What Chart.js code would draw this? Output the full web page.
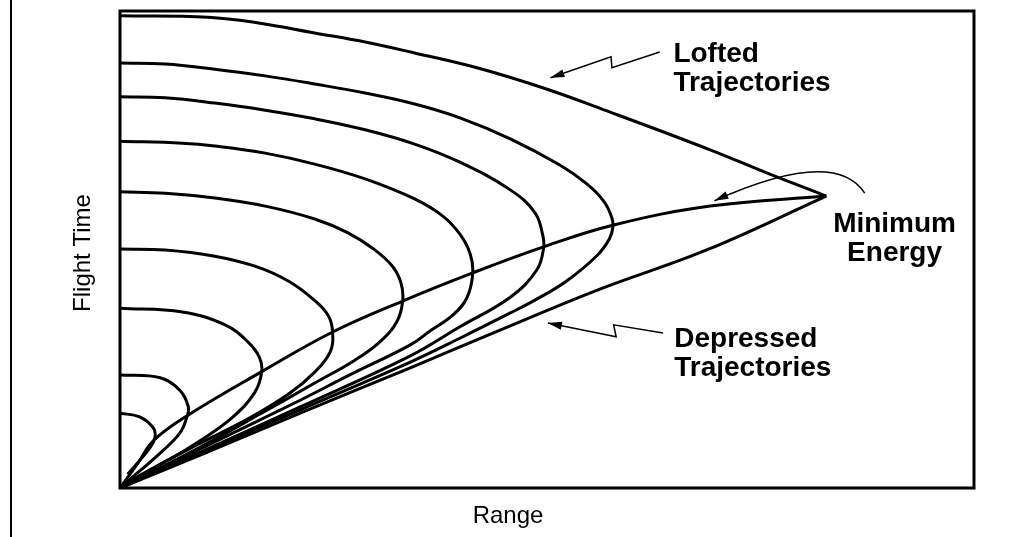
<!DOCTYPE html>
<html>
<head>
<meta charset="utf-8">
<title>Flight Time vs Range</title>
<script src="https://cdn.jsdelivr.net/npm/chart.js@4/dist/chart.umd.min.js"></script>
<style>
  html, body { margin:0; padding:0; background:#fff; }
  #wrap { width:1026px; height:537px; position:relative; }
</style>
</head>
<body>
<div id="wrap"><canvas id="chart"></canvas></div>
<script>
// ---------------------------
// DATA  (range, flight time), relative units 0-100
// ---------------------------
// highest energy curve, split at the minimum energy point so the corner stays sharp
const loftedMax = [[0,99.0],[10.3,98.7],[16.2,97.5],[22.8,95.4],[28.7,93.5],[34.5,91.2],[41.8,88.1],[49.5,83.9],[57.4,78.8],[69.1,70.9],[75.8,66.0],[82.7,61.2]];
const depressedMax = [[82.7,61.2],[68.7,49.9],[56.2,41.7],[44.5,33.1],[34.0,25.2],[21.1,15.7],[9.4,6.9],[0,0]];

const curve2 = [[0,89.1],[5.3,88.9],[11.1,87.8],[17.0,86.4],[22.8,84.7],[28.7,82.8],[34.5,80.5],[39.8,77.6],[45.7,73.2],[51.5,67.7],[54.7,63.7],[56.7,60.0],[57.6,56.6],[57.7,54.5],[57.3,52.2],[55.9,48.8],[52.3,43.4],[48.8,39.6],[45.7,36.7],[39.8,31.4],[34.0,26.4],[21.1,16.4],[9.4,7.3],[0,0]];
const curve3 = [[0,82.0],[5.3,81.8],[11.1,80.7],[17.0,79.2],[22.8,77.4],[28.7,75.1],[34.5,72.1],[39.8,68.3],[45.7,62.5],[48.6,57.7],[49.5,53.0],[49.6,50.3],[48.8,45.7],[45.7,40.0],[39.8,33.8],[34.0,27.7],[21.1,17.0],[9.4,7.5],[0,0]];
const curve4 = [[0,72.7],[7.3,72.3],[11.1,71.7],[17.0,70.2],[22.8,67.9],[28.7,64.8],[34.5,60.6],[37.8,57.0],[39.8,53.2],[41.0,49.1],[41.3,44.9],[40.6,39.8],[39.0,36.3],[36.3,32.9],[34.0,30.0],[26.9,23.7],[21.1,18.4],[9.4,8.2],[0,0]];
const curve5 = [[0,62.1],[5.3,61.8],[11.1,60.8],[17.0,59.1],[22.8,56.4],[26.7,53.5],[29.7,50.1],[31.9,46.5],[32.9,43.0],[33.1,39.2],[32.4,34.8],[30.4,30.6],[27.5,26.8],[22.8,22.0],[16.4,15.5],[9.4,8.6],[0,0]];
const curve6 = [[0,50.1],[5.3,49.9],[11.1,48.6],[15.8,46.5],[19.7,43.4],[22.6,39.6],[24.4,36.1],[24.9,32.5],[24.6,28.5],[22.8,24.3],[19.9,19.9],[15.2,14.7],[9.4,9.4],[4.1,4.4],[0,0]];
const curve7 = [[0,37.7],[7.3,36.9],[12.3,34.2],[15.0,30.6],[16.3,27.5],[16.6,24.5],[15.8,20.1],[13.1,14.7],[9.1,9.6],[5.3,5.5],[1.8,2.1],[0,0]];
const curve8 = [[0,23.7],[4.7,23.1],[7.0,20.5],[8.0,17.0],[7.8,14.7],[7.0,11.5],[4.7,7.3],[2.0,3.1],[0,0]];
const curve9 = [[0,15.7],[2.3,14.9],[3.9,12.6],[4.1,10.7],[3.5,8.4],[0.9,2.9]];

// locus of minimum energy points
const minEnergy = [[0,0],[2.1,5.2],[3.9,9.9],[8.0,15.3],[16.7,24.5],[24.9,32.7],[33.1,39.2],[41.3,45.1],[49.5,50.5],[57.7,55.1],[69.1,59.1],[82.7,61.2]];

const curves = [loftedMax, depressedMax, curve2, curve3, curve4, curve5, curve6, curve7, curve8, curve9, minEnergy];

// callout arrows (data units)
const loftedArrow = [[63.2,91.4],[57.6,88.1],[57.5,90.4],[50.4,86.0]];
const depressedArrow = [[63.6,32.5],[57.8,34.2],[58.1,31.7],[50.1,34.6]];
const minEnergyArc = { from:[87.2,61.8], ctrl:[83.7,71.5], to:[69.6,60.2] };

// text labels: [lines, x, y, align]
const labels = [
  [["Lofted","Trajectories"], 64.8, 89.3, "left"],
  [["Minimum","Energy"], 90.7, 53.7, "center"],
  [["Depressed","Trajectories"], 64.9, 29.6, "left"],
];

const xTitle = "Range";
const yTitle = "Flight Time";

// ---------------------------
// DRAWING HELPERS
// ---------------------------
function arrowHead(ctx, tx, ty, fx, fy){
  const a = Math.atan2(ty-fy, tx-fx), len = 14, half = 4;
  ctx.beginPath();
  ctx.moveTo(tx, ty);
  ctx.lineTo(tx - len*Math.cos(a) + half*Math.sin(a), ty - len*Math.sin(a) - half*Math.cos(a));
  ctx.lineTo(tx - len*Math.cos(a) - half*Math.sin(a), ty - len*Math.sin(a) + half*Math.cos(a));
  ctx.closePath();
  ctx.fill();
}

const decorations = {
  id:"decorations",
  afterDatasetsDraw(chart){
    const {ctx, chartArea:a, scales:{x, y}} = chart;
    const px = (p)=>[x.getPixelForValue(p[0]), y.getPixelForValue(p[1])];
    ctx.save();
    ctx.fillStyle = "#000";
    ctx.strokeStyle = "#000";

    // frame
    ctx.lineWidth = 3;
    ctx.strokeRect(a.left, a.top, a.right-a.left, a.bottom-a.top);

    // scanned page edge on the left
    ctx.lineWidth = 2;
    ctx.beginPath(); ctx.moveTo(11, 0); ctx.lineTo(11, chart.height); ctx.stroke();

    // zig-zag callouts
    ctx.lineWidth = 1.5;
    [loftedArrow, depressedArrow].forEach(pts=>{
      const p = pts.map(px);
      ctx.beginPath();
      ctx.moveTo(p[0][0], p[0][1]);
      p.slice(1).forEach(q=>ctx.lineTo(q[0], q[1]));
      ctx.stroke();
      const n = p.length;
      arrowHead(ctx, p[n-1][0], p[n-1][1], p[n-2][0], p[n-2][1]);
    });

    // curved callout
    const f = px(minEnergyArc.from), c = px(minEnergyArc.ctrl), t = px(minEnergyArc.to);
    ctx.beginPath();
    ctx.moveTo(f[0], f[1]);
    ctx.quadraticCurveTo(c[0], c[1], t[0], t[1]);
    ctx.stroke();
    arrowHead(ctx, t[0], t[1], c[0], c[1]);

    // labels
    ctx.font = 'bold 28px "Liberation Sans", Arial, sans-serif';
    ctx.textBaseline = "alphabetic";
    labels.forEach(([lines, lx, ly, align])=>{
      const [bx, by] = px([lx, ly]);
      ctx.textAlign = align;
      lines.forEach((s,i)=>ctx.fillText(s, bx, by + i*29));
    });

    // axis titles
    ctx.font = '24px "Liberation Sans", Arial, sans-serif';
    ctx.textAlign = "center";
    ctx.fillText(xTitle, a.left + 388, a.bottom + 35);
    ctx.save();
    ctx.translate(a.left - 30, a.top + 242);
    ctx.rotate(-Math.PI/2);
    ctx.fillText(yTitle, 0, 0);
    ctx.restore();

    ctx.restore();
  }
};

// ---------------------------
// CHART
// ---------------------------
new Chart(document.getElementById("chart"), {
  type:"scatter",
  data:{
    datasets: curves.map(pts=>({
      data: pts.map(([vx,vy])=>({x:vx, y:vy})),
      showLine:true,
      borderColor:"#000",
      borderWidth:3,
      tension:0.4,
      pointRadius:0,
      fill:false
    }))
  },
  options:{
    responsive:true,
    maintainAspectRatio:false,
    animation:false,
    layout:{ padding:{ left:120, top:11, right:52, bottom:49 } },
    scales:{
      x:{ type:"linear", min:0, max:100, display:false },
      y:{ type:"linear", min:0, max:100, display:false }
    },
    plugins:{ legend:{ display:false }, tooltip:{ enabled:false } }
  },
  plugins:[decorations]
});
</script>
</body>
</html>
